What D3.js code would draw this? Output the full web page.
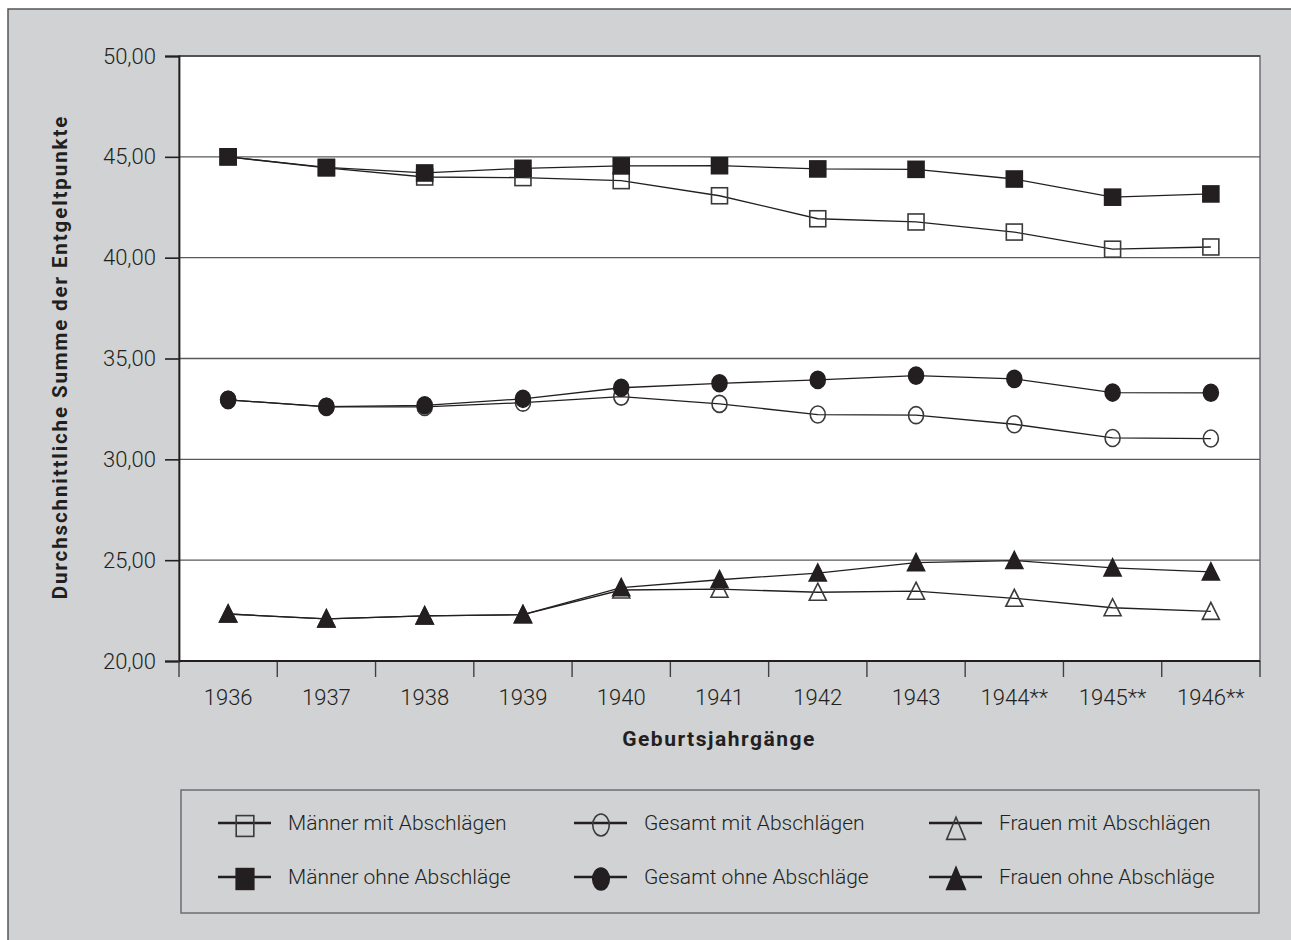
<!DOCTYPE html>
<html><head><meta charset="utf-8">
<script src="https://cdn.jsdelivr.net/npm/d3@7"></script>
<style>
html,body{margin:0;padding:0;background:#fff;}
svg{display:block;}
text{font-family:Roboto,"DejaVu Sans",sans-serif;fill:#231f20;}
</style></head>
<body><svg id="c" width="1291" height="940"></svg>
<script>
const years = ["1936","1937","1938","1939","1940","1941","1942","1943","1944**","1945**","1946**"];
const maennerMit  = [45.00,44.45,44.00,43.97,43.82,43.07,41.93,41.77,41.27,40.42,40.53];
const maennerOhne = [45.00,44.48,44.20,44.43,44.55,44.56,44.40,44.38,43.90,43.00,43.16];
const gesamtMit   = [32.95,32.60,32.60,32.81,33.11,32.75,32.22,32.19,31.74,31.06,31.03];
const gesamtOhne  = [32.95,32.61,32.68,33.00,33.55,33.77,33.94,34.15,33.99,33.31,33.30];
const frauenMit   = [22.33,22.09,22.24,22.30,23.52,23.56,23.41,23.46,23.11,22.64,22.46];
const frauenOhne  = [22.33,22.09,22.24,22.30,23.64,24.03,24.36,24.88,24.98,24.62,24.42];
const yTicks = [20,25,30,35,40,45,50];

const seriesNames = ["Männer mit Abschlägen","Gesamt mit Abschlägen","Frauen mit Abschlägen",
                     "Männer ohne Abschläge","Gesamt ohne Abschläge","Frauen ohne Abschläge"];
const series = [
  {name:seriesNames[0], values:maennerMit,  shape:"square",   filled:false},
  {name:seriesNames[1], values:gesamtMit,   shape:"circle",   filled:false},
  {name:seriesNames[2], values:frauenMit,   shape:"triangle", filled:false},
  {name:seriesNames[3], values:maennerOhne, shape:"square",   filled:true},
  {name:seriesNames[4], values:gesamtOhne,  shape:"circle",   filled:true},
  {name:seriesNames[5], values:frauenOhne,  shape:"triangle", filled:true}
];

const ink = "#231f20";
const svg = d3.select("#c");
// outer frame
svg.append("rect").attr("x",8).attr("y",9).attr("width",1290).attr("height",940)
  .attr("fill","#d1d2d4").attr("stroke","#555").attr("stroke-width",1.5);

const L=179, T=56, R=1260, B=661;
const x = d3.scaleBand().domain(years).range([L,R]);
const y = d3.scaleLinear().domain([20,50]).range([B,T]);

svg.append("rect").attr("x",L).attr("y",T).attr("width",R-L).attr("height",B-T)
  .attr("fill","#fff").attr("stroke","#6d6e71").attr("stroke-width",1.5);

// grid
svg.append("g").selectAll("line").data(yTicks.filter(d=>d>20 && d<50)).join("line")
  .attr("x1",L).attr("x2",R).attr("y1",d=>y(d)).attr("y2",d=>y(d))
  .attr("stroke","#58595b").attr("stroke-width",1.4);
svg.append("line").attr("x1",L).attr("x2",R).attr("y1",T).attr("y2",T).attr("stroke","#414042").attr("stroke-width",1.6);

// y axis
const yAxis = d3.axisLeft(y).tickValues(yTicks).tickSize(14).tickPadding(9)
  .tickFormat(d=>d3.format(".2f")(d).replace(".",","));
const gy = svg.append("g").attr("transform",`translate(${L},0)`).call(yAxis);
gy.select(".domain").attr("stroke",ink).attr("stroke-width",1.8);
gy.selectAll(".tick line").attr("stroke",ink).attr("stroke-width",1.6);
gy.selectAll(".tick text").style("font-size","22px").style("font-weight","300").attr("fill",ink);

// x axis
const bounds = years.map(d=>x(d)).concat([R]);
svg.append("g").selectAll("line").data(bounds).join("line")
  .attr("x1",d=>d).attr("x2",d=>d).attr("y1",B).attr("y2",B+16)
  .attr("stroke","#414042").attr("stroke-width",1.4);
svg.append("line").attr("x1",L).attr("x2",R).attr("y1",B).attr("y2",B).attr("stroke",ink).attr("stroke-width",1.8);
svg.append("g").selectAll("text").data(years).join("text")
  .attr("x",d=>x(d)+x.bandwidth()/2).attr("y",705).attr("text-anchor","middle")
  .style("font-size","22px").style("font-weight","300").text(d=>d);

// titles
svg.append("text").attr("x",719).attr("y",746).attr("text-anchor","middle")
  .style("font-size","21px").style("font-weight","700").style("letter-spacing","1.5px").text("Geburtsjahrgänge");
svg.append("text").attr("transform","translate(67,357) rotate(-90)").attr("text-anchor","middle")
  .style("font-size","20.5px").style("font-weight","700").style("letter-spacing","1.9px").text("Durchschnittliche Summe der Entgeltpunkte");

// marker drawing
function marker(g, shape, filled, cx, cy, s){
  const fill = filled ? ink : "none";
  const sw = 1.6;
  let el;
  if(shape==="square"){
    el = g.append("rect").attr("x",cx-8*s.w).attr("y",cy-8*s.h).attr("width",16*s.w).attr("height",16*s.h);
  } else if(shape==="circle"){
    el = g.append("ellipse").attr("cx",cx).attr("cy",cy).attr("rx",7.5*s.w).attr("ry",8.5*s.h);
  } else {
    const p = d3.path();
    p.moveTo(cx, cy-9*s.h); p.lineTo(cx+8.5*s.w, cy+8*s.h); p.lineTo(cx-8.5*s.w, cy+8*s.h); p.closePath();
    el = g.append("path").attr("d",p.toString());
  }
  el.attr("fill",fill).attr("stroke",filled?"#231f20":"#3a3a3c").attr("stroke-width",sw);
}

const line = d3.line().x((d,i)=>x(years[i])+x.bandwidth()/2).y(d=>y(d));
const plot = svg.append("g");
series.forEach(s=>{
  plot.append("path").datum(s.values).attr("d",line).attr("fill","none")
    .attr("stroke",ink).attr("stroke-width",1.3);
});
series.forEach(s=>{
  const g = plot.append("g");
  s.values.forEach((v,i)=>marker(g,s.shape,s.filled,x(years[i])+x.bandwidth()/2,y(v),{w:1,h:1}));
});

// legend
svg.append("rect").attr("x",181).attr("y",790).attr("width",1078).attr("height",123)
  .attr("fill","#d1d2d4").attr("stroke","#6d6e71").attr("stroke-width",1.5);
const colX = [218, 574, 929];
const rowY = [823, 877];
series.forEach((s,i)=>{
  const col = i%3, row = Math.floor(i/3);
  const g = svg.append("g");
  const x0 = colX[col], cy = rowY[row];
  g.append("line").attr("x1",x0).attr("x2",x0+53).attr("y1",cy).attr("y2",cy).attr("stroke",ink).attr("stroke-width",2.4);
  const mx = x0+27;
  const my = s.shape==="triangle" && !s.filled ? cy+6 : (s.shape==="square" && !s.filled ? cy+3 : cy+2);
  marker(g, s.shape, s.filled, mx, my, {w:1.1, h:1.3});
  g.append("text").attr("x",x0+70).attr("y",cy+7).style("font-size","21px").style("font-weight","300").text(s.name);
});
</script></body></html>
